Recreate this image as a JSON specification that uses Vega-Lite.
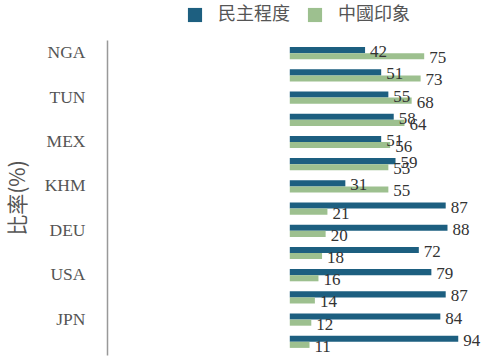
{
  "$schema": "https://vega.github.io/schema/vega-lite/v6.json",
  "autosize": "none",
  "width": 362,
  "height": 315,
  "padding": {"left": 107, "top": 40, "right": 15, "bottom": 8},
  "background": "white",
  "config": {"view": {"stroke": null}},
  "data": {"values": [
    {"country": "NGA", "series": "民主程度", "value": 42}, {"country": "NGA", "series": "中國印象", "value": 75},
    {"country": "NGA_2", "series": "民主程度", "value": 51}, {"country": "NGA_2", "series": "中國印象", "value": 73},
    {"country": "TUN", "series": "民主程度", "value": 55}, {"country": "TUN", "series": "中國印象", "value": 68},
    {"country": "TUN_2", "series": "民主程度", "value": 58}, {"country": "TUN_2", "series": "中國印象", "value": 64},
    {"country": "MEX", "series": "民主程度", "value": 51}, {"country": "MEX", "series": "中國印象", "value": 56},
    {"country": "MEX_2", "series": "民主程度", "value": 59}, {"country": "MEX_2", "series": "中國印象", "value": 55},
    {"country": "KHM", "series": "民主程度", "value": 31}, {"country": "KHM", "series": "中國印象", "value": 55},
    {"country": "KHM_2", "series": "民主程度", "value": 87}, {"country": "KHM_2", "series": "中國印象", "value": 21},
    {"country": "DEU", "series": "民主程度", "value": 88}, {"country": "DEU", "series": "中國印象", "value": 20},
    {"country": "DEU_2", "series": "民主程度", "value": 72}, {"country": "DEU_2", "series": "中國印象", "value": 18},
    {"country": "USA", "series": "民主程度", "value": 79}, {"country": "USA", "series": "中國印象", "value": 16},
    {"country": "USA_2", "series": "民主程度", "value": 87}, {"country": "USA_2", "series": "中國印象", "value": 14},
    {"country": "JPN", "series": "民主程度", "value": 84}, {"country": "JPN", "series": "中國印象", "value": 12},
    {"country": "JPN_2", "series": "民主程度", "value": 94}, {"country": "JPN_2", "series": "中國印象", "value": 11}
  ]},
  "encoding": {
    "y": {
      "field": "country", "type": "nominal", "sort": null,
      "scale": {"paddingInner": 0.45, "paddingOuter": 0.32},
      "axis": {
        "title": "比率(%)",
        "titleFont": "Noto Sans CJK TC", "titleFontSize": 21, "titleFontWeight": "normal", "titleColor": "#555555",
        "titlePadding": 16,
        "labelExpr": "indexof(datum.value, '_') >= 0 ? '' : datum.value",
        "labelFont": "Liberation Serif", "labelFontSize": 17.5, "labelColor": "#555555",
        "labelPadding": 22, "ticks": false, "domainColor": "#999999", "domainWidth": 1.5,
        "grid": false
      }
    },
    "yOffset": {"field": "series", "type": "nominal", "sort": ["民主程度", "中國印象"], "scale": {"paddingInner": 0}},
    "x": {"field": "value", "type": "quantitative", "scale": {"domain": [-102, 100], "nice": false, "zero": false}, "axis": null}
  },
  "layer": [
    {
      "mark": {"type": "bar"},
      "encoding": {
        "x2": {"datum": 0},
        "color": {
          "field": "series", "type": "nominal", "sort": ["民主程度", "中國印象"],
          "scale": {"domain": ["民主程度", "中國印象"], "range": ["#1d5f80", "#9dc08f"]},
          "legend": {
            "title": null, "orient": "none", "direction": "horizontal",
            "legendX": 79, "legendY": -34,
            "symbolType": "square", "symbolSize": 200, "symbolStrokeWidth": 0,
            "labelFont": "Noto Sans CJK TC", "labelFontSize": 18, "labelColor": "#555555",
            "labelOffset": 14, "columnPadding": 16
          }
        }
      }
    },
    {
      "mark": {"type": "text", "align": "left", "baseline": "middle", "dx": 5, "dy": 2, "font": "Liberation Serif", "fontSize": 17, "color": "#333333"},
      "encoding": {"text": {"field": "value", "type": "quantitative"}}
    }
  ]
}
